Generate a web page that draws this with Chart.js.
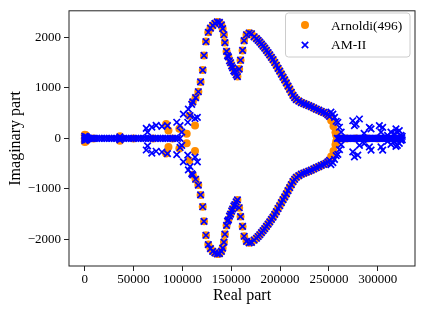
<!DOCTYPE html>
<html>
<head>
<meta charset="utf-8">
<script src="https://cdn.jsdelivr.net/npm/chart.js@4.4.0/dist/chart.umd.min.js"></script>
<style>
  html, body { margin: 0; padding: 0; background: #fff; }
</style>
</head>
<body>
<canvas id="chart" width="424" height="312"></canvas>
<script>
// tick labels
const xTicks = [0, 50000, 100000, 150000, 200000, 250000, 300000];
const yTicks = [-2000, -1000, 0, 1000, 2000];

// real eigenvalues (imaginary part 0)
const arnoldiReal = [0, 3000, 9000, 50000, 70000, 90000, 258500, 262000, 268000, 277800, 289400, 300000, 309800, 318000, 322000];
const amReal = [0, 400, 1500, 3200, 4500, 6000, 8000, 10000, 12500, 15000, 17500, 20000, 22500, 25000, 27500,
  30000, 32500, 35000, 37500, 40000, 42500, 45000, 47500, 50000, 52500, 55000, 57500, 60000, 62500, 65000,
  67500, 70000, 72500, 75000, 77500, 80000, 82500, 85000, 87500, 90000, 92500, 95000, 97500,
  258500, 260000, 261500, 263000, 264500, 266000, 267500, 269000, 270500, 272000, 273500, 275000, 276500,
  278000, 279500, 281000, 282500, 284000, 285500, 287000, 288500, 290000, 291500, 293000, 294500, 296000,
  297500, 299000, 300500, 302000, 303500, 305000, 306500, 308000, 309500, 311000, 312500, 314000, 315500,
  317000, 318500, 320000, 321500, 323000, 324500];

// complex eigenvalues found by both methods [real, imag]
const curveUpper = [
  [110600, 723], [113500, 810], [116300, 925], [118600, 1120], [120800, 1355], [122100, 1645], [124100, 1920],
  [126500, 2105], [128700, 2185], [131000, 2240], [133300, 2280], [135700, 2310], [137900, 2300], [139900, 2250],
  [141200, 2175], [142500, 2055], [143500, 1900], [145200, 1725], [147100, 1615], [149300, 1500], [151400, 1400],
  [153700, 1315], [156300, 1225], [158100, 1375], [159500, 1550], [161600, 1745], [163200, 1940], [165600, 2055],
  [168300, 2090], [170700, 2075], [173400, 2015], [175800, 1980], [177500, 1945], [179200, 1910], [180900, 1870],
  [182600, 1830], [184300, 1790], [186000, 1745], [187700, 1700], [189400, 1655], [191100, 1605], [192800, 1560],
  [194500, 1505], [196200, 1450], [197900, 1390], [199600, 1335], [201300, 1275], [203000, 1215], [204700, 1160],
  [206400, 1100], [208100, 1035], [209800, 975], [211500, 915], [213200, 855], [214900, 810], [216600, 770],
  [219200, 740], [221700, 710], [224300, 690], [226800, 670], [229400, 650], [231900, 630], [234500, 605],
  [237000, 580], [239600, 560], [242100, 535], [244700, 515], [247200, 495], [248900, 465], [250600, 435]
];
const curveLower = [
  [110600, -723], [113500, -810], [116300, -925], [118600, -1120], [120800, -1355], [122100, -1645], [124100, -1920],
  [126500, -2105], [128700, -2185], [131000, -2240], [133300, -2270], [135700, -2290], [137900, -2285], [139900, -2240],
  [141200, -2175], [142500, -2055], [143500, -1900], [145200, -1725], [147100, -1615], [149300, -1500], [151400, -1400],
  [153700, -1315], [156300, -1220], [158100, -1375], [159500, -1550], [161600, -1745], [163200, -1940], [165600, -2040],
  [168300, -2070], [170700, -2060], [173400, -2015], [175800, -1980], [177500, -1945], [179200, -1910], [180900, -1870],
  [182600, -1830], [184300, -1790], [186000, -1745], [187700, -1700], [189400, -1655], [191100, -1605], [192800, -1560],
  [194500, -1505], [196200, -1450], [197900, -1390], [199600, -1335], [201300, -1275], [203000, -1215], [204700, -1160],
  [206400, -1100], [208100, -1035], [209800, -975], [211500, -915], [213200, -855], [214900, -810], [216600, -770],
  [219200, -740], [221700, -710], [224300, -690], [226800, -670], [229400, -650], [231900, -630], [234500, -605],
  [237000, -580], [239600, -560], [242100, -535], [244700, -515], [247200, -495], [248900, -465], [250600, -435]
];

// points only Arnoldi(496) has
const arnoldiExtra = [
  [0, 70], [1200, 60], [36000, 45], [83300, 285], [85700, 155], [96900, 190], [104400, 90], [107100, 449],
  [112900, 254], [252300, 357], [254700, 240], [256700, 123], [257400, 60],
  [0, -70], [1200, -60], [36000, -45], [83300, -300], [85700, -170], [96900, -200], [104400, -95], [107100, -440],
  [112900, -250], [252300, -360], [254700, -250], [256700, -125], [257400, -60]
];

// points only AM-II has
const amExtra = [
  [0, 40], [900, 35], [2200, 25], [36000, 30],
  [63000, 200], [64300, 125], [68700, 225], [73100, 260], [79000, 240], [84700, 255], [94200, 320], [97600, 255],
  [99300, 125], [101000, 480], [105500, 320], [106100, 580], [107800, 450], [109500, 675], [112900, 395], [115300, 415],
  [146200, 1640], [148200, 1540], [150400, 1440], [152600, 1340], [155000, 1260],
  [252000, 520], [254000, 480], [255700, 416], [257400, 340], [259100, 318], [260800, 221], [262500, 123],
  [274400, 350], [277800, 285], [281200, 385], [276100, 255], [286000, 100], [291400, 220], [293100, 190],
  [301600, 254], [305000, 220], [303300, 123], [310000, 60], [313500, 123], [316900, 90], [318600, 190],
  [320000, 120], [322000, 156], [323700, 59], [325000, 40],
  [0, -40], [900, -35], [2200, -25], [36000, -30],
  [63000, -230], [64300, -150], [68700, -290], [73100, -255], [79000, -270], [84700, -300], [94200, -320], [97600, -180],
  [99300, -140], [101000, -465], [105500, -330], [106100, -625], [107800, -560], [109500, -700], [112900, -370], [115300, -465],
  [146200, -1640], [148200, -1540], [150400, -1440], [152600, -1340], [155000, -1260],
  [252000, -520], [254000, -480], [255700, -416], [257400, -340], [259100, -318], [260800, -221], [262500, -123],
  [274400, -268], [279500, -332], [276100, -365], [281200, -137], [286100, -105], [291400, -170], [293100, -234],
  [303300, -170], [305000, -234], [310000, -60], [313500, -120], [316900, -60], [318600, -160], [320000, -140],
  [322000, -100], [323700, -40], [325000, -30]
];

const serif = "'Liberation Serif', 'Times New Roman', serif";
const orange = '#ff8c00';
const blue = '#0000ff';

function pts(pairs) { return pairs.map(p => ({ x: p[0], y: p[1] })); }
function onAxis(vals) { return vals.map(v => ({ x: v, y: 0 })); }

const arnoldiData = onAxis(arnoldiReal).concat(pts(curveUpper), pts(curveLower), pts(arnoldiExtra));
const amData = onAxis(amReal).concat(pts(curveUpper), pts(curveLower), pts(amExtra));

function fmt(v) { return v < 0 ? '\u2212' + (-v) : String(v); }

const framePlugin = {
  id: 'frame',
  afterDraw(chart) {
    const ctx = chart.ctx, a = chart.chartArea;
    ctx.save();
    ctx.strokeStyle = '#222';
    ctx.lineWidth = 1;
    ctx.strokeRect(a.left, a.top, a.right - a.left, a.bottom - a.top);

    // legend box
    const bx = 285.5, by = 13, bw = 124.5, bh = 44, r = 3;
    ctx.beginPath();
    ctx.moveTo(bx + r, by);
    ctx.arcTo(bx + bw, by, bx + bw, by + bh, r);
    ctx.arcTo(bx + bw, by + bh, bx, by + bh, r);
    ctx.arcTo(bx, by + bh, bx, by, r);
    ctx.arcTo(bx, by, bx + bw, by, r);
    ctx.closePath();
    ctx.fillStyle = 'rgba(255,255,255,0.8)';
    ctx.fill();
    ctx.strokeStyle = '#cccccc';
    ctx.stroke();

    ctx.fillStyle = orange;
    ctx.beginPath();
    ctx.arc(305, 25, 4, 0, Math.PI * 2);
    ctx.fill();

    ctx.strokeStyle = blue;
    ctx.lineWidth = 1.7;
    const d = 3.2;
    ctx.beginPath();
    ctx.moveTo(305 - d, 45 - d); ctx.lineTo(305 + d, 45 + d);
    ctx.moveTo(305 - d, 45 + d); ctx.lineTo(305 + d, 45 - d);
    ctx.stroke();

    ctx.fillStyle = '#000';
    ctx.font = '13.5px ' + serif;
    ctx.textAlign = 'left';
    ctx.textBaseline = 'alphabetic';
    ctx.fillText('Arnoldi(496)', 331, 29.5);
    ctx.fillText('AM-II', 331, 49);
    ctx.restore();
  }
};

new Chart(document.getElementById('chart'), {
  type: 'scatter',
  data: {
    datasets: [
      {
        label: 'Arnoldi(496)',
        data: arnoldiData,
        order: 1,
        pointStyle: 'circle',
        pointRadius: 4,
        pointBorderWidth: 0,
        backgroundColor: orange,
        borderColor: orange
      },
      {
        label: 'AM-II',
        data: amData,
        order: 0,
        pointStyle: 'crossRot',
        pointRadius: 4.6,
        pointBorderWidth: 1.7,
        backgroundColor: blue,
        borderColor: blue
      }
    ]
  },
  options: {
    responsive: false,
    animation: false,
    devicePixelRatio: 1,
    events: [],
    layout: { padding: { left: 0, right: 9, top: 7, bottom: 0 } },
    plugins: {
      legend: { display: false },
      tooltip: { enabled: false }
    },
    scales: {
      x: {
        type: 'linear',
        min: -16100,
        max: 338100,
        afterBuildTicks: s => { s.ticks = xTicks.map(v => ({ value: v })); },
        afterFit: s => { s.height = 46; },
        grid: { drawOnChartArea: false, drawTicks: true, tickLength: 5, tickColor: '#222' },
        border: { display: false },
        ticks: { color: '#000', padding: 1, maxRotation: 0, font: { family: serif, size: 13 }, callback: v => fmt(v) },
        title: { display: true, text: 'Real part', color: '#000', padding: { top: 0, bottom: 7 }, font: { family: serif, size: 16 } }
      },
      y: {
        type: 'linear',
        min: -2530,
        max: 2530,
        afterBuildTicks: s => { s.ticks = yTicks.map(v => ({ value: v })); },
        afterFit: s => { s.width = 69; },
        grid: { drawOnChartArea: false, drawTicks: true, tickLength: 5, tickColor: '#222' },
        border: { display: false },
        ticks: { color: '#000', padding: 3, font: { family: serif, size: 13 }, callback: v => fmt(v) },
        title: { display: true, text: 'Imaginary part', color: '#000', padding: { top: 6, bottom: 0 }, font: { family: serif, size: 16 } }
      }
    }
  },
  plugins: [framePlugin]
});
</script>
</body>
</html>
